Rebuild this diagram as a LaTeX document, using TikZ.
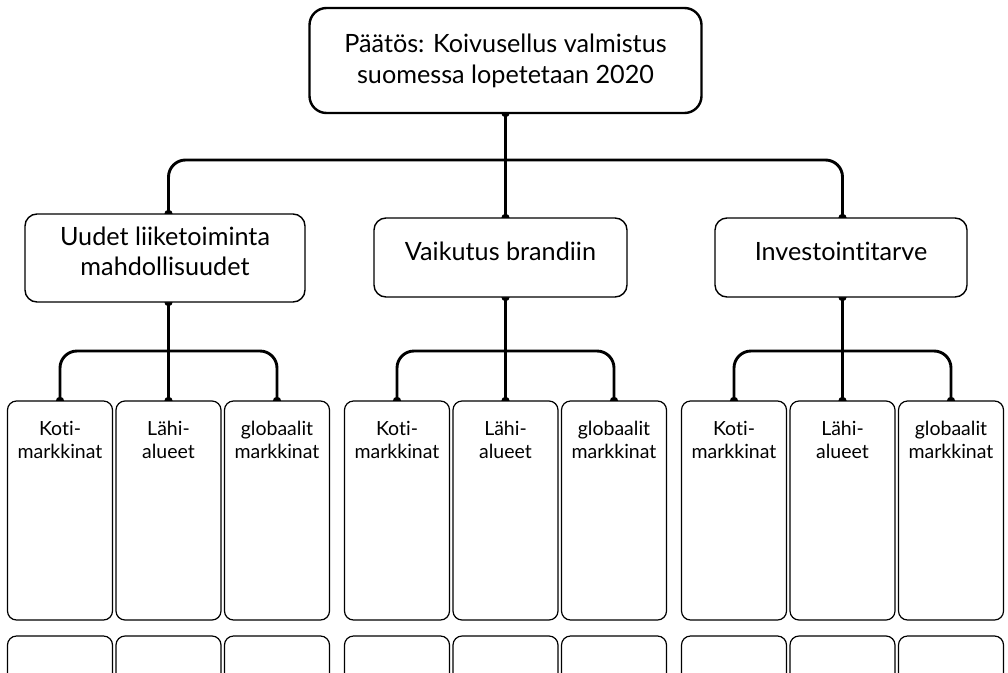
\documentclass[tikz,border=0pt]{standalone}
\usepackage{fontspec}
\setmainfont{Lato}[Ligatures={NoCommon,NoRare}, RawFeature={-liga;-dlig;-clig;-calt}]
\usetikzlibrary{backgrounds}
\begin{document}
\begin{tikzpicture}[x=1pt,y=-1pt,
  topbox/.style={draw, fill=white, line width=2.4pt, rounded corners=17pt, inner sep=0pt, outer sep=0pt},
  midbox/.style={draw, fill=white, line width=1.4pt, rounded corners=12pt, inner sep=0pt, outer sep=0pt},
  leafbox/.style={draw, fill=white, line width=1.2pt, rounded corners=9pt, inner sep=0pt, outer sep=0pt, minimum width=105pt},
  conn/.style={line width=2.9pt, rounded corners=17pt},
  toptxt/.style={font=\fontsize{25.2}{31}\selectfont, align=center, inner sep=0pt},
  bigtxt/.style={font=\fontsize{25.2}{30}\selectfont, align=center, inner sep=0pt},
  leaftxt/.style={font=\fontsize{19.5}{23}\selectfont, align=center, inner sep=0pt, anchor=north}]
\useasboundingbox (0,0) rectangle (1008,672);
\clip (0,0) rectangle (1008,672);

% top
\node[topbox, minimum width=392pt, minimum height=105pt] (top) at (505.5,60.5) {};
\node[toptxt] (toptxt) at (top.center) {Päätös: Koivusellus valmistus\\suomessa lopetetaan 2020};

% second level
\node[midbox, minimum width=280pt, minimum height=88pt] (L) at (165,258) {};
\node[midbox, minimum width=253pt, minimum height=79pt] (M) at (500.5,257.5) {};
\node[midbox, minimum width=252pt, minimum height=79pt] (R) at (841,257.5) {};
\node[bigtxt] (Ltxt) at (165,251) {Uudet liiketoiminta\\mahdollisuudet};
\node[bigtxt] (Mtxt) at (500.5,251) {Vaikutus brandiin};
\node[bigtxt] (Rtxt) at (841,251) {Investointitarve};

% leaves
\foreach \g/\gx in {0/60,1/397,2/734}{
  \foreach \i/\t in {0/{Koti-\\markkinat},1/{Lähi-\\alueet},2/{globaalit\\markkinat}}{
    \node[leafbox, minimum height=219pt] (l\g\i) at (\gx+108.5*\i,510.5) {};
    \node[leaftxt] (lt\g\i) at ([yshift=-20pt]l\g\i.north) {\t};
    \node[leafbox, minimum height=70pt] (b\g\i) at (\gx+108.5*\i,671) {};
  }
}

\begin{scope}[on background layer]
  \draw[conn] (L.north -| l01.north) |- (top.south |- 0,160) -| (R.north -| l21.north);
  \draw[conn] (top.south) -- (top.south |- M.north);
  \fill (top.south) circle (4.2pt);
  \fill (L.north -| l01.north) circle (4.2pt);
  \fill (top.south |- M.north) circle (4.2pt);
  \fill (R.north -| l21.north) circle (4.2pt);
  \foreach \g/\P in {0/L,1/M,2/R}{
    \draw[conn] (\P.south -| l\g1.north) -- (l\g1.north);
    \draw[conn] (l\g0.north) |- (l\g1.north |- 0,351) -| (l\g2.north);
    \fill (\P.south -| l\g1.north) circle (4.2pt);
    \foreach \i in {0,1,2}{
      \fill (l\g\i.north) circle (4.2pt);
    }
  }
\end{scope}
\end{tikzpicture}
\end{document}
